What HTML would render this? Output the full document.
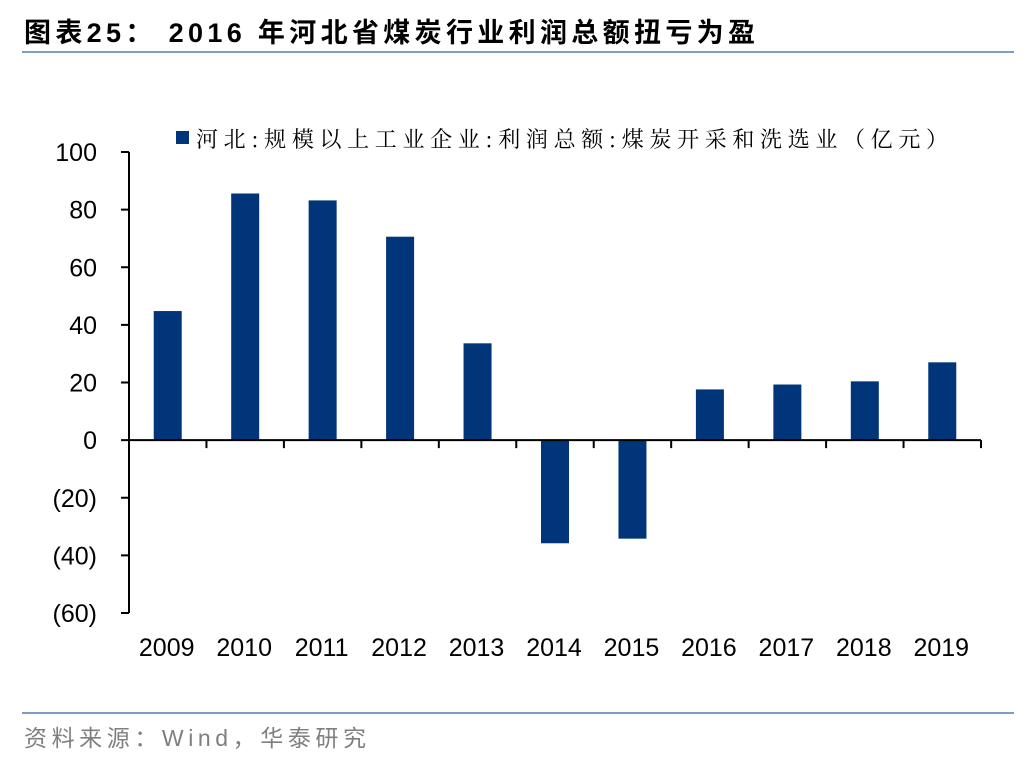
<!DOCTYPE html>
<html><head><meta charset="utf-8"><style>
body{margin:0;background:#fff;width:1036px;height:760px;overflow:hidden;font-family:"Liberation Sans","Noto Sans CJK SC",sans-serif}
</style></head><body>
<svg width="1036" height="760">
<text x="24" y="42" font-size="27" font-weight="bold" textLength="731" lengthAdjust="spacing" font-family="Liberation Sans, Noto Sans CJK SC, sans-serif">图表25：  2016 年河北省煤炭行业利润总额扭亏为盈</text>
<line x1="22" y1="52" x2="1014" y2="52" stroke="#7f9cc4" stroke-width="2"/>
<rect x="176" y="131" width="13" height="13" fill="#003679"/>
<text x="196" y="147" font-size="22" textLength="752" lengthAdjust="spacing" font-family="Noto Serif CJK SC, Liberation Serif, serif">河北:规模以上工业企业:利润总额:煤炭开采和洗选业（亿元）</text>
<g id="plot"></g>
<line x1="22" y1="713" x2="1014" y2="713" stroke="#7f9cc4" stroke-width="2"/>
<text x="24" y="746" font-size="23" fill="#7f7f7f" textLength="342" lengthAdjust="spacing" font-family="Liberation Sans, Noto Sans CJK SC, sans-serif">资料来源：Wind，华泰研究</text>
</svg>
<script>
const categories=["2009","2010","2011","2012","2013","2014","2015","2016","2017","2018","2019"];
const values=[44.8,85.6,83.2,70.6,33.6,-35.8,-34.2,17.6,19.3,20.4,27.0];
const yTicks=[100,80,60,40,20,0,-20,-40,-60];
const yTickLabels=["100","80","60","40","20","0","(20)","(40)","(60)"];
const ns="http://www.w3.org/2000/svg",g=document.getElementById('plot');
const x0=129,x1=981,yMin=-60,yMax=100,yTop=152,yBot=613;
const y=v=>yBot-(v-yMin)/(yMax-yMin)*(yBot-yTop);
const bw=(x1-x0)/categories.length;
function mk(t,a,txt){const e=document.createElementNS(ns,t);for(const k in a)e.setAttribute(k,a[k]);if(txt!==undefined)e.textContent=txt;g.appendChild(e);return e;}
values.forEach((v,i)=>{const cx=x0+bw*(i+0.5);const r=mk('rect',{x:cx-14,y:Math.min(y(v),y(0)),width:28,height:Math.abs(y(v)-y(0)),fill:'#003679'});


const t=mk('text',{x:cx-1,y:656,'font-size':25,'text-anchor':'middle'},categories[i]);

});
for(let i=0;i<=categories.length;i++){const l=mk('line',{x1:x0+bw*i,x2:x0+bw*i,y1:y(0),y2:y(0)+8,stroke:'#000','stroke-width':2});

}
yTicks.forEach((v,i)=>{const l=mk('line',{x1:x0-8,x2:x0,y1:y(v),y2:y(v),stroke:'#000','stroke-width':2});


const t=mk('text',{x:97,y:y(v)+9,'font-size':25,'text-anchor':'end'},yTickLabels[i]);

});
const ya=mk('line',{x1:x0,x2:x0,y1:yTop,y2:yBot,stroke:'#000','stroke-width':2});


const xa=mk('line',{x1:x0,x2:x1,y1:y(0),y2:y(0),stroke:'#000','stroke-width':2});


</script>
</body></html>
